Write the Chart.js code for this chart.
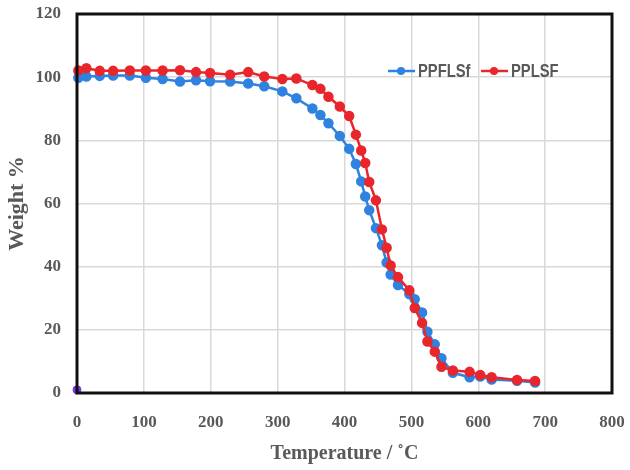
<!DOCTYPE html>
<html>
<head>
<meta charset="utf-8">
<script src="https://cdn.jsdelivr.net/npm/chart.js@4"></script>
<style>
    html, body { margin: 0; padding: 0; background: #fff; }
    #wrap { width: 630px; height: 470px; }
</style>
</head>
<body>
<div id="wrap"><canvas id="tgaChart" width="630" height="470"></canvas></div>
<script>
// Temperature readings (shared by both samples), in deg C
const temps = [2, 14, 34, 54, 79, 103, 128, 154, 178, 199, 229, 256, 280, 307, 328,
    352, 364, 376, 393, 407, 417, 425, 431, 437, 447, 456, 463, 469, 480, 497,
    505, 516, 524, 535, 545, 562, 587, 603, 620, 658, 685];

// Weight % for each sample
const ppflsf = [99.8, 100.2, 100.4, 100.5, 100.5, 99.8, 99.4, 98.6, 99.0, 98.7,
    98.6, 98.0, 97.1, 95.5, 93.3, 90.1, 88.0, 85.4, 81.4, 77.3,
    72.5, 67.0, 62.2, 57.9, 52.2, 46.8, 41.3, 37.5, 34.2, 31.3,
    29.7, 25.5, 19.4, 15.4, 11.0, 6.4, 5.0, 5.2, 4.3, 3.9, 3.3];
const pplsf = [102.1, 102.8, 102.0, 102.0, 102.1, 102.1, 102.1, 102.2, 101.6, 101.3,
    100.8, 101.6, 100.2, 99.4, 99.6, 97.5, 96.3, 93.8, 90.7, 87.7,
    81.8, 76.8, 72.8, 66.8, 61.0, 51.8, 46.0, 40.4, 36.7, 32.5,
    26.9, 22.2, 16.3, 13.1, 8.3, 7.1, 6.7, 5.7, 5.0, 4.1, 3.8];

// stray point at the origin
const strayTemp = [0];
const strayWeight = [1];

const seriesNames = ["PPFLSf", "PPLSF"];
const seriesColors = ["#2f82e0", "#e8262b"];

const xTicks = [0, 100, 200, 300, 400, 500, 600, 700, 800];
const yTicks = [0, 20, 40, 60, 80, 100, 120];

function toPoints(xs, ys) {
    return xs.map((x, i) => ({ x: x, y: ys[i] }));
}

// Frame round the plot + legend inside the plot
const framePlugin = {
    id: "frame",
    afterDraw(chart) {
        const ctx = chart.ctx;
        const a = chart.chartArea;
        ctx.save();
        ctx.strokeStyle = "#111";
        ctx.lineWidth = 3;
        ctx.strokeRect(a.left, a.top, a.right - a.left, a.bottom - a.top);

        // legend
        const ly = 71;
        const items = [
            { name: seriesNames[0], color: seriesColors[0], x0: 388 },
            { name: seriesNames[1], color: seriesColors[1], x0: 481 }
        ];
        ctx.font = "bold 18px 'Liberation Sans', sans-serif";
        ctx.textBaseline = "middle";
        items.forEach(it => {
            ctx.strokeStyle = it.color;
            ctx.lineWidth = 2.5;
            ctx.beginPath();
            ctx.moveTo(it.x0, ly);
            ctx.lineTo(it.x0 + 27, ly);
            ctx.stroke();
            ctx.fillStyle = it.color;
            ctx.beginPath();
            ctx.arc(it.x0 + 13, ly, 4, 0, Math.PI * 2);
            ctx.fill();
            // narrow text, like a condensed face
            ctx.save();
            ctx.translate(it.x0 + 30, ly + 1);
            ctx.scale(0.82, 1.05);
            ctx.fillStyle = "#595959";
            ctx.fillText(it.name, 0, 0);
            ctx.restore();
        });
        ctx.restore();
    }
};

const serif = "'Liberation Serif', 'Times New Roman', serif";

new Chart(document.getElementById("tgaChart").getContext("2d"), {
    type: "line",
    data: {
        datasets: [{
            label: seriesNames[0],
            data: toPoints(temps, ppflsf),
            borderColor: seriesColors[0],
            backgroundColor: seriesColors[0],
            borderWidth: 2.5,
            pointRadius: 4,
            pointHoverRadius: 4,
            order: 2
        }, {
            label: seriesNames[1],
            data: toPoints(temps, pplsf),
            borderColor: seriesColors[1],
            backgroundColor: seriesColors[1],
            borderWidth: 2.5,
            pointRadius: 4,
            pointHoverRadius: 4,
            order: 1
        }, {
            label: "",
            data: toPoints(strayTemp, strayWeight),
            borderColor: "#7b35e0",
            backgroundColor: "#7b35e0",
            showLine: false,
            pointRadius: 4,
            order: 0
        }]
    },
    options: {
        responsive: false,
        animation: false,
        clip: false,
        layout: { padding: { top: 14, right: 18, left: 0, bottom: 0 } },
        plugins: {
            legend: { display: false },
            tooltip: { enabled: false }
        },
        scales: {
            x: {
                type: "linear",
                min: 0,
                max: 800,
                afterBuildTicks: s => { s.ticks = xTicks.map(v => ({ value: v })); },
                afterFit: s => {
                    s.height = 77;
                    s.paddingLeft = 0;
                    s.paddingRight = 0;
                },
                grid: { color: "#d9d9d9", lineWidth: 1.5, drawTicks: false },
                border: { display: false },
                ticks: {
                    padding: 19,
                    color: "#595959",
                    font: { family: serif, size: 17, weight: "bold" }
                },
                title: {
                    display: true,
                    text: "Temperature / ˚C",
                    color: "#595959",
                    padding: { top: 4, bottom: 4 },
                    font: { family: serif, size: 20, weight: "bold" }
                }
            },
            y: {
                min: 0,
                max: 120,
                afterBuildTicks: s => { s.ticks = yTicks.map(v => ({ value: v })); },
                afterFit: s => {
                    s.width = 77;
                    s.paddingTop = 0;
                    s.paddingBottom = 0;
                },
                grid: { color: "#d9d9d9", lineWidth: 1.5, drawTicks: false },
                border: { display: false },
                ticks: {
                    padding: 16,
                    color: "#595959",
                    font: { family: serif, size: 17, weight: "bold" }
                },
                title: {
                    display: true,
                    text: "Weight %",
                    color: "#595959",
                    padding: { top: 4, bottom: 4 },
                    font: { family: serif, size: 22, weight: "bold" }
                }
            }
        }
    },
    plugins: [framePlugin]
});
</script>
</body>
</html>
